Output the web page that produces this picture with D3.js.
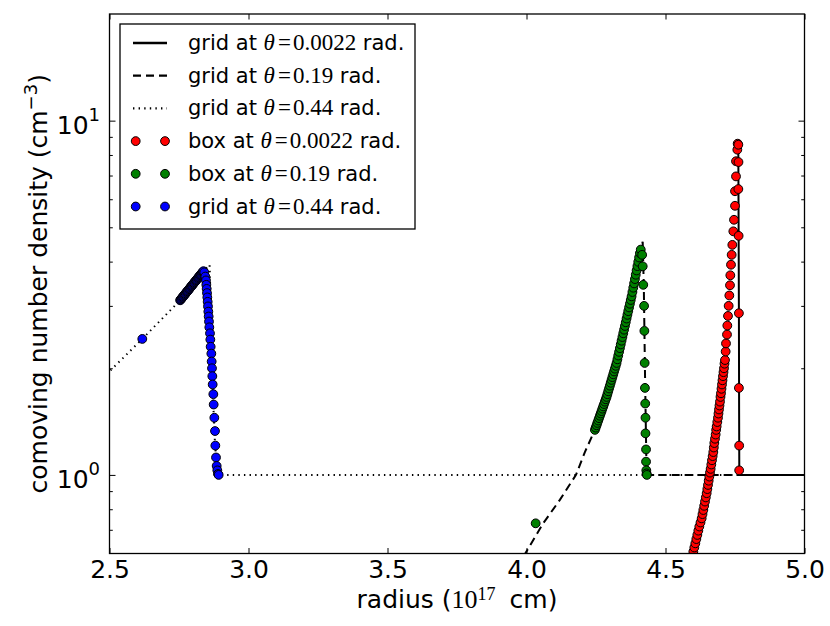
<!DOCTYPE html>
<html><head><meta charset="utf-8">
<script src="https://cdn.jsdelivr.net/npm/d3@7"></script>
<style>body{margin:0;background:#fff}svg{display:block}</style>
</head><body>
<svg id="chart" width="830" height="626"></svg>
<script>
// ---------- data ----------
const xDomain = [2.5, 5.0];
const yDomain = [0.6, 20];
const xTicks = [2.5, 3.0, 3.5, 4.0, 4.5, 5.0];
const yMajorTicks = [1, 10];
const yMajorExponents = ["0", "1"];
const yMinorTicks = [0.7, 0.8, 0.9, 2, 3, 4, 5, 6, 7, 8, 9];

// grid curves [radius (1e17 cm), density]
const gridSolid = [[5.0,1.0],[4.7655,1.0],[4.7648,1.5],[4.764,3.0],[4.763,5.0],[4.762,8.0],[4.760,8.75]];
const gridDashed = [[3.99,0.59],[4.06,0.73],[4.12,0.85],[4.178,1.0],[4.21,1.16],[4.246,1.34],[4.288,1.66],[4.324,2.07],[4.351,2.57],[4.378,3.19],[4.399,3.885],[4.411,4.33],[4.418,4.55],[4.422,3.4],[4.426,2.0],[4.430,1.25],[4.432,1.0],[5.0,1.0]];
const gridDotted = [[2.49,1.92],[2.5,1.96],[2.618,2.42],[2.754,3.11],[2.838,3.76],[2.860,3.92],[2.864,3.0],[2.868,2.2],[2.873,1.6],[2.879,1.25],[2.886,1.05],[2.893,1.0],[5.0,1.0]];

// box / grid points
const redPoints = [[4.6001,0.607],[4.6037,0.624],[4.6073,0.641],[4.6109,0.659],[4.6145,0.677],[4.6181,0.696],[4.6217,0.715],[4.6259,0.734],[4.6301,0.754],[4.6331,0.775],[4.6361,0.796],[4.6391,0.818],[4.6421,0.841],[4.6451,0.864],[4.6481,0.888],[4.6505,0.912],[4.6529,0.937],[4.6553,0.963],[4.6577,0.989],[4.6600,1.015],[4.6624,1.04],[4.6648,1.07],[4.6672,1.10],[4.6696,1.13],[4.6720,1.16],[4.6738,1.195],[4.6756,1.23],[4.6780,1.265],[4.6804,1.30],[4.6822,1.34],[4.6840,1.37],[4.6864,1.41],[4.6888,1.45],[4.6906,1.49],[4.6924,1.53],[4.6942,1.57],[4.6960,1.61],[4.6978,1.66],[4.6996,1.70],[4.7014,1.75],[4.7032,1.80],[4.7050,1.85],[4.7068,1.90],[4.7086,1.95],[4.7104,2.00],[4.7122,2.06],[4.7140,2.11],[4.7164,2.23],[4.7176,2.35],[4.7212,2.49],[4.7224,2.64],[4.7248,2.81],[4.7272,3.00],[4.7296,3.21],[4.7320,3.43],[4.7332,3.66],[4.7356,3.92],[4.7380,4.18],[4.7404,4.46],[4.7440,4.87],[4.7464,5.25],[4.7500,5.75],[4.7500,6.32],[4.7536,6.96],[4.7536,7.68],[4.7584,8.28],[4.7596,8.61],
  [4.762,8.55],[4.7625,7.64],[4.762,6.41],[4.763,4.73],[4.764,2.86],[4.764,1.76],[4.765,1.21],[4.765,1.03]];

const greenPoints = [[4.033,0.73],
  [4.246,1.340],[4.249,1.360],[4.252,1.381],[4.255,1.402],[4.258,1.424],[4.261,1.446],[4.264,1.469],[4.267,1.491],[4.270,1.514],[4.273,1.538],[4.276,1.561],[4.279,1.585],[4.282,1.610],[4.285,1.635],[4.288,1.660],[4.291,1.690],[4.294,1.722],[4.297,1.754],[4.300,1.786],[4.303,1.820],[4.306,1.854],[4.309,1.888],[4.312,1.923],[4.315,1.959],[4.318,1.995],[4.321,2.032],[4.324,2.070],[4.327,2.120],[4.330,2.172],[4.333,2.225],[4.336,2.279],[4.339,2.335],[4.342,2.392],[4.345,2.450],[4.348,2.510],[4.351,2.570],[4.354,2.633],[4.357,2.697],[4.360,2.763],[4.363,2.830],[4.366,2.899],[4.369,2.970],[4.372,3.042],[4.375,3.117],[4.378,3.192],[4.381,3.283],[4.384,3.376],[4.387,3.472],[4.390,3.571],[4.393,3.673],[4.396,3.777],[4.399,3.885],[4.402,3.995],[4.405,4.109],[4.408,4.227],[4.411,4.325],
  [4.416,4.18],[4.418,3.88],[4.420,3.44],[4.423,3.00],[4.424,2.55],[4.425,2.07],[4.426,1.76],[4.427,1.59],[4.428,1.45],[4.428,1.31],[4.430,1.18],[4.430,1.09],[4.431,1.03],[4.432,1.01],[4.433,1.0]];

const bluePoints = [[2.618,2.42],
  [2.754,3.111],[2.756,3.125],[2.758,3.139],[2.760,3.153],[2.762,3.167],[2.764,3.182],[2.766,3.196],[2.768,3.211],[2.770,3.225],[2.772,3.240],[2.774,3.254],[2.776,3.269],[2.778,3.284],[2.780,3.299],[2.782,3.313],[2.784,3.328],[2.786,3.343],[2.788,3.358],[2.790,3.374],[2.792,3.389],[2.794,3.404],[2.796,3.420],[2.798,3.435],[2.800,3.451],[2.802,3.466],[2.804,3.482],[2.806,3.498],[2.808,3.513],[2.810,3.529],[2.812,3.545],[2.814,3.561],[2.816,3.577],[2.818,3.594],[2.820,3.610],[2.822,3.626],[2.824,3.643],[2.826,3.659],[2.828,3.676],[2.830,3.692],[2.832,3.709],[2.834,3.726],[2.836,3.743],[2.838,3.759],
  [2.8411,3.73],[2.8447,3.63],[2.8471,3.54],[2.8483,3.44],[2.8495,3.35],[2.8507,3.26],[2.8519,3.17],[2.8531,3.08],[2.8543,2.99],[2.8555,2.89],[2.8567,2.80],[2.8579,2.71],[2.8591,2.61],[2.8615,2.51],[2.8627,2.41],[2.8639,2.30],[2.8663,2.20],[2.8675,2.09],[2.8687,2.00],[2.8699,1.90],[2.8711,1.80],[2.8735,1.69],[2.8747,1.58],[2.8771,1.45],[2.8795,1.33],[2.8807,1.21],[2.8831,1.12],[2.8855,1.06],[2.8879,1.03],[2.8903,1.006],[2.8927,1.0]];

const legendPrefixes = ["grid at ", "grid at ", "grid at ", "box at ", "box at ", "grid at "];
const legendAngles = ["0.0022", "0.19", "0.44", "0.0022", "0.19", "0.44"];

// ---------- layout ----------
const svg = d3.select("#chart");
const L = 109.5, R = 804.5, T = 14, B = 553.5;
const x = d3.scaleLinear(xDomain, [L, R]);
const y = d3.scaleLog(yDomain, [B, T]);
const SANS = "'DejaVu Sans', sans-serif";
const SERIF = "'Liberation Serif', 'DejaVu Serif', serif";
const LW = 2;

svg.append("rect").attr("width", 830).attr("height", 626).attr("fill", "#fff");
svg.append("defs").append("clipPath").attr("id", "clip")
  .append("rect").attr("x", L).attr("y", T).attr("width", R - L).attr("height", B - T);

const plot = svg.append("g").attr("clip-path", "url(#clip)");
const line = d3.line().x(d => x(d[0])).y(d => y(d[1]));

plot.append("path").datum(gridSolid).attr("d", line)
  .attr("fill", "none").attr("stroke", "#000").attr("stroke-width", LW);
plot.append("path").datum(gridDashed).attr("d", line)
  .attr("fill", "none").attr("stroke", "#000").attr("stroke-width", LW).attr("stroke-dasharray", "8,5");
plot.append("path").datum(gridDotted).attr("d", line)
  .attr("fill", "none").attr("stroke", "#000").attr("stroke-width", LW).attr("stroke-dasharray", "1.4,4.2");

const MR = 4.4;
const MSW = 1;
function dots(data, color) {
  plot.append("g").selectAll("circle").data(data).join("circle")
    .attr("cx", d => x(d[0])).attr("cy", d => y(d[1])).attr("r", MR)
    .attr("fill", color).attr("stroke", "#000").attr("stroke-width", MSW);
}
dots(redPoints, "#ff0000");
dots(greenPoints, "#008000");
dots(bluePoints, "#0000ff");

// ---------- axes ----------
const axB = svg.append("g").attr("transform", `translate(0,${B})`)
  .call(d3.axisBottom(x).tickValues(xTicks).tickFormat(d3.format(".1f")).tickSize(-5.5).tickPadding(7));
const axT = svg.append("g").attr("transform", `translate(0,${T})`)
  .call(d3.axisTop(x).tickValues(xTicks).tickFormat("").tickSize(-5.5));
const axL = svg.append("g").attr("transform", `translate(${L},0)`)
  .call(d3.axisLeft(y).tickValues(yMajorTicks).tickFormat("").tickSize(-6));
const axLm = svg.append("g").attr("transform", `translate(${L},0)`)
  .call(d3.axisLeft(y).tickValues(yMinorTicks).tickFormat("").tickSize(-3.3));
const axR = svg.append("g").attr("transform", `translate(${R},0)`)
  .call(d3.axisRight(y).tickValues(yMajorTicks).tickFormat("").tickSize(-6));
const axRm = svg.append("g").attr("transform", `translate(${R},0)`)
  .call(d3.axisRight(y).tickValues(yMinorTicks).tickFormat("").tickSize(-3.3));
[axB, axT, axL, axLm, axR, axRm].forEach(g => {
  g.select(".domain").remove();
  g.selectAll(".tick line").attr("stroke", "#000").attr("stroke-width", 1);
});
axB.selectAll(".tick text").attr("font-family", SANS).attr("font-size", 25).attr("fill", "#000");

// y tick labels 10^n
const ylab = svg.append("g");
yMajorTicks.forEach((v, i) => {
  const t = ylab.append("text").attr("x", 100).attr("y", y(v) + 13)
    .attr("text-anchor", "end").attr("font-family", SANS).attr("font-size", 25).attr("fill", "#000");
  t.append("tspan").text("10");
  t.append("tspan").attr("dy", -13).attr("font-size", 18).text(yMajorExponents[i]);
});

// frame
svg.append("rect").attr("x", L).attr("y", T).attr("width", R - L).attr("height", B - T)
  .attr("fill", "none").attr("stroke", "#000").attr("stroke-width", 1.3);

// axis labels
const xl = svg.append("text").attr("x", (L + R) / 2).attr("y", 608).attr("text-anchor", "middle")
  .attr("font-family", SANS).attr("font-size", 25).attr("fill", "#000");
xl.append("tspan").text("radius (");
xl.append("tspan").attr("font-family", SERIF).attr("font-size", 26).text("10");
xl.append("tspan").attr("font-family", SERIF).attr("font-size", 18).attr("dy", -8).text("17");
xl.append("tspan").attr("dy", 8).attr("dx", 14).text("cm)");

const yl = svg.append("text").attr("transform", `translate(47,${(T + B) / 2}) rotate(-90)`)
  .attr("text-anchor", "middle").attr("font-family", SANS).attr("font-size", 25).attr("fill", "#000");
yl.append("tspan").text("comoving number density (cm");
yl.append("tspan").attr("dy", -10).attr("font-size", 18).text("\u22123");
yl.append("tspan").attr("dy", 10).text(")");

// ---------- legend ----------
const lg = svg.append("g");
lg.append("rect").attr("x", 120).attr("y", 24).attr("width", 295).attr("height", 205)
  .attr("fill", "#fff").attr("stroke", "#000").attr("stroke-width", 1.3);
const legendStyles = [
  {type: "line", dash: null}, {type: "line", dash: "8,5"}, {type: "line", dash: "1.4,4.2"},
  {type: "dot", color: "#ff0000"}, {type: "dot", color: "#008000"}, {type: "dot", color: "#0000ff"}
];
legendStyles.forEach((s, i) => {
  const yb = 50 + 32.7 * i, yc = yb - 7;
  if (s.type === "line") {
    const l = lg.append("line").attr("x1", 133).attr("x2", 167).attr("y1", yc).attr("y2", yc)
      .attr("stroke", "#000").attr("stroke-width", LW + 0.3);
    if (s.dash) l.attr("stroke-dasharray", s.dash);
  } else {
    [135.7, 165].forEach(cx => lg.append("circle").attr("cx", cx).attr("cy", yc).attr("r", MR)
      .attr("fill", s.color).attr("stroke", "#000").attr("stroke-width", MSW));
  }
  const t = lg.append("text").attr("x", 188).attr("y", yb)
    .attr("font-family", SANS).attr("font-size", 21).attr("fill", "#000");
  t.append("tspan").text(legendPrefixes[i]);
  t.append("tspan").attr("font-family", SERIF).attr("font-style", "italic").attr("font-size", 23).text("\u03b8");
  t.append("tspan").attr("font-family", SERIF).attr("font-size", 23).attr("dx", 3).text("=");
  t.append("tspan").attr("font-family", SERIF).attr("font-size", 23).attr("dx", 2).text(legendAngles[i]);
  t.append("tspan").text(" rad.");
});
</script>
</body></html>
